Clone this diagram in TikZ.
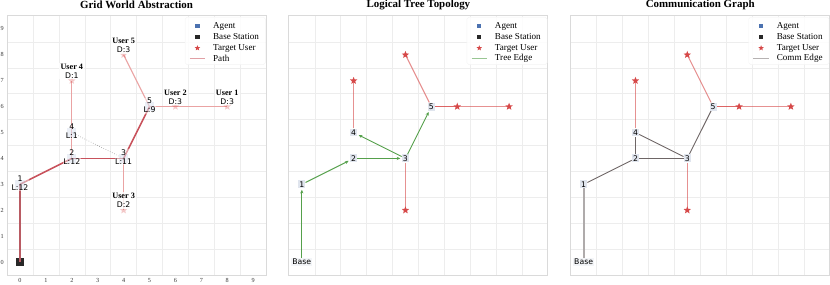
\documentclass[tikz,border=0pt]{standalone}
\usepackage{fontspec}
\setmainfont{Liberation Serif}
\newfontfamily\tagfont{DejaVu Sans}
\usepackage{tikz}
\usetikzlibrary{shapes.geometric, arrows.meta, positioning, backgrounds}
\definecolor{agentblue}{RGB}{76,114,176}
\definecolor{basedark}{RGB}{40,40,40}
\definecolor{tgtred}{RGB}{214,72,72}
\definecolor{pathred}{RGB}{200,82,92}
\definecolor{treegreen}{RGB}{85,160,75}
\definecolor{commgray}{RGB}{110,102,102}
\definecolor{gridgray}{RGB}{237,237,237}
\definecolor{framegray}{RGB}{218,218,218}
\definecolor{tagfill}{RGB}{224,229,238}

\begin{document}
\begin{tikzpicture}[
    gridline/.style={draw=gridgray, line width=0.5pt},
    frame/.style={draw=framegray, line width=1pt},
    ttl/.style={font=\fontsize{12}{14}\selectfont\bfseries},
    tick/.style={font=\fontsize{6.8}{7}\selectfont, text=black!80, inner sep=0pt},
    agent/.style={rectangle, fill=agentblue, fill opacity=0.2, minimum size=0.36cm, inner sep=0pt},
    basesq/.style={rectangle, fill=basedark, minimum size=0.32cm, inner sep=0pt},
    target/.style={star, star points=5, star point ratio=2.3, fill=tgtred, inner sep=0pt, minimum size=0.3cm},
    gtag/.style={font=\tagfont\fontsize{8.5}{9.6}\selectfont, align=center, fill=white,
                 fill opacity=0.45, text opacity=1, inner sep=0.8pt},
    utag/.style={align=center, fill=white, fill opacity=0.8, text opacity=1, inner sep=1.2pt,
                 font=\fontsize{9}{10}\selectfont},
    ntag/.style={font=\tagfont\fontsize{8.5}{9}\selectfont, fill=tagfill, inner sep=1.2pt},
    trail/.style={draw=pathred, line width=1.7pt},
    branch/.style={draw=tgtred!50, line width=1.2pt},
    reach/.style={draw=tgtred, draw opacity=0.6, line width=1.2pt},
    tree/.style={-{Stealth[length=4pt, width=3.5pt]}, draw=treegreen, line width=1pt, shorten >=1.5pt},
    comm/.style={draw=commgray, line width=1pt},
    legbox/.style={fill=white, fill opacity=0.85, draw=framegray!30, rounded corners=2pt, inner sep=0pt},
    legtxt/.style={anchor=west, font=\fontsize{10}{11}\selectfont, inner sep=0pt},
    agentmk/.style={rectangle, fill=agentblue, minimum size=0.17cm, inner sep=0pt},
    basemk/.style={rectangle, fill=basedark, minimum size=0.17cm, inner sep=0pt},
    tgtmk/.style={star, star points=5, star point ratio=2.3, fill=tgtred, inner sep=0pt, minimum size=0.22cm}
  ]
    \useasboundingbox (-0.772,-0.849) rectangle (31.27,10.116);

    % Frames, grids, titles and legends of the three panels
    \foreach \dx/\ttltext/\pname/\lgname/\lgcol in {0/Grid World Abstraction/grid/Path/pathred!55,
        10.88/Logical Tree Topology/tree/Tree Edge/treegreen!60,
        21.76/Communication Graph/comm/Comm Edge/commgray!50} {
      \begin{scope}[xshift=\dx cm]
        \begin{pgfonlayer}{background}
          \foreach \k in {0.5,1.5,...,8.5} {
            \draw[gridline] (\k,-0.5) -- (\k,9.5);
            \draw[gridline] (-0.5,\k) -- (9.5,\k);
          }
        \end{pgfonlayer}
        \draw[frame] (-0.5,-0.5) rectangle (9.5,9.5);
        \node[ttl] (\pname-title) at (4.5,9.92) {\ttltext};

        \node[legbox, minimum width=3.1cm, minimum height=1.83cm, anchor=north east] (\pname-legend) at (9.48,9.46) {};
        \node[agentmk] (\pname-magent) at (6.85,9.11) {};
        \node[legtxt]  (\pname-lagent) at (7.45,9.11) {Agent};
        \node[basemk]  (\pname-mbase)  at (6.85,8.69) {};
        \node[legtxt]  (\pname-lbase)  at (7.45,8.69) {Base Station};
        \node[tgtmk]   (\pname-mtgt)   at (6.85,8.26) {};
        \node[legtxt]  (\pname-ltgt)   at (7.45,8.26) {Target User};
        \draw[draw=\lgcol, line width=1.5pt] (6.55,7.86) -- (7.15,7.86);
        \node[legtxt]  (\pname-ledge)  at (7.45,7.86) {\lgname};
      \end{scope}
    }

    % Left panel: grid world with path and loads
    \foreach \k in {0,...,9} {
      \node[tick] (xt\k) at (\k,-0.7) {\k};
      \node[tick] (yt\k) at (-0.69,\k) {\k};
    }
    \begin{pgfonlayer}{background}
      \node[basesq] (gbase) at (0,0) {};
    \end{pgfonlayer}
    \foreach \n/\x/\y/\ld in {1/0/3/12, 2/2/4/12, 3/4/4/11, 4/2/5/1, 5/5/6/9} {
      \node[agent] (g\n) at (\x,\y) {};
      \node[gtag] (gl\n) at (\x,\y+0.04) {\n\\L:\ld};
    }
    \foreach \n/\x/\y/\dem in {1/8/6/3, 2/6/6/3, 3/4/2/2, 4/2/7/1, 5/4/8/3} {
      \node[target, opacity=0.3] (gu\n) at (\x,\y) {};
      \node[utag] (gul\n) at (\x,\y+0.37) {\textbf{User \n}\\{\tagfont\fontsize{8.5}{9.6}\selectfont D:\dem}};
    }
    \begin{pgfonlayer}{background}
      \draw[trail, line width=2.4pt, draw=pathred!80!gray] (gbase.center) -- (g1.center);
      \foreach \a/\b in {g1/g2, g2/g3, g3/g5}
        \draw[trail] (\a.center) -- (\b.center);
      \foreach \a/\b in {g2/g4, g4/gu4, g3/gu3, g5/gu5, g5/gu2, g5/gu1}
        \draw[branch] (\a.center) -- (\b.center);
      \draw[dotted, draw=gray, line width=0.6pt] (g4.center) -- (g3.center);
    \end{pgfonlayer}

    % Middle panel: logical tree
    \begin{scope}[xshift=10.88cm]
      \node[ntag, fill=tagfill!40] (tbase) at (0,0) {Base};
      \foreach \n/\x/\y in {1/0/3, 2/2/4, 3/4/4, 4/2/5, 5/5/6}
        \node[ntag] (t\n) at (\x,\y) {\n};
      \foreach \n/\x/\y in {1/8/6, 2/6/6, 3/4/2, 4/2/7, 5/4/8}
        \node[target] (tu\n) at (\x,\y) {};

      \foreach \a/\b in {tbase/t1, t1/t2, t2/t3, t3/t4, t3/t5}
        \draw[tree] (\a) -- (\b);
      \begin{pgfonlayer}{background}
        \foreach \a/\b in {t4/tu4, t3/tu3, t5/tu5, t5/tu2, t5/tu1}
          \draw[reach] (\a) -- (\b.center);
      \end{pgfonlayer}
    \end{scope}

    % Right panel: communication graph
    \begin{scope}[xshift=21.76cm]
      \node[ntag, fill=tagfill!40] (cbase) at (0,0) {Base};
      \foreach \n/\x/\y in {1/0/3, 2/2/4, 3/4/4, 4/2/5, 5/5/6}
        \node[ntag] (c\n) at (\x,\y) {\n};
      \foreach \n/\x/\y in {1/8/6, 2/6/6, 3/4/2, 4/2/7, 5/4/8}
        \node[target] (cu\n) at (\x,\y) {};

      \begin{pgfonlayer}{background}
        \draw[comm, draw=commgray!55, line width=2pt] (cbase) -- (c1);
        \foreach \a/\b in {c1/c2, c2/c3, c2/c4, c4/c3, c3/c5}
          \draw[comm] (\a) -- (\b);
        \foreach \a/\b in {c4/cu4, c3/cu3, c5/cu5, c5/cu2, c5/cu1}
          \draw[reach] (\a) -- (\b.center);
      \end{pgfonlayer}
    \end{scope}

  \end{tikzpicture}
\end{document}
